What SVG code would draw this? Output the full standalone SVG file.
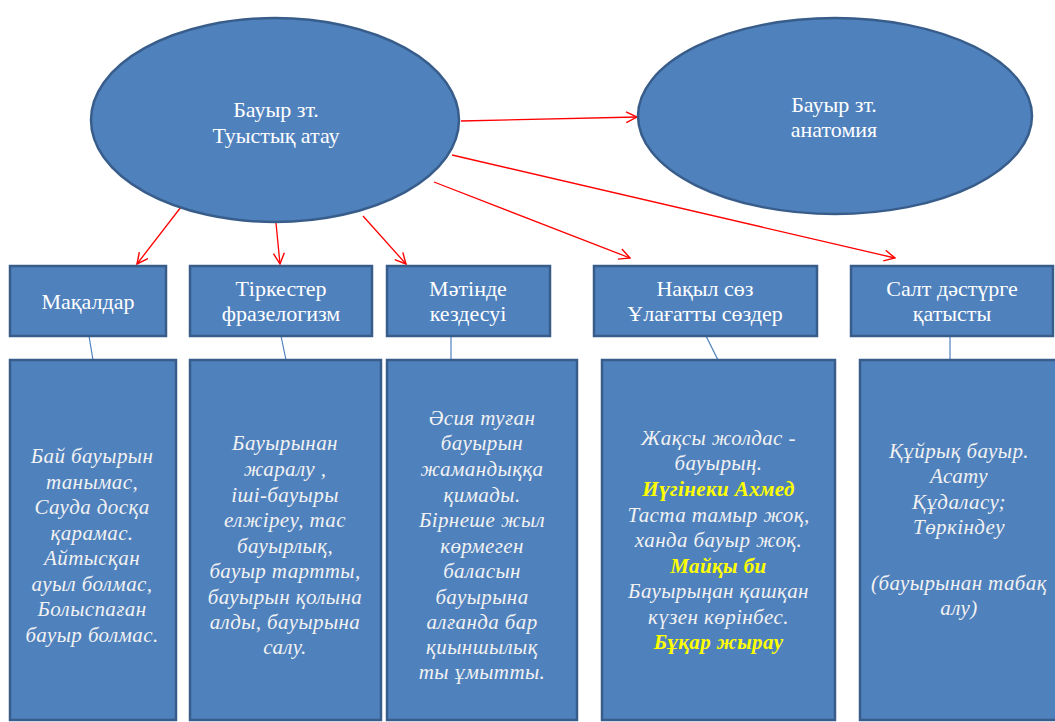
<svg xmlns="http://www.w3.org/2000/svg" width="1055" height="722" viewBox="0 0 1055 722">
<defs>
<style>
.sh{fill:#4F81BD;stroke:#385D8A;stroke-width:2.5}
.t{font-family:'Liberation Serif','Times New Roman',serif;font-size:22px;fill:#FFFFFF;text-anchor:middle}
.i{font-family:'Liberation Serif','Times New Roman',serif;font-size:21px;font-style:italic;fill:#F2F2F2;text-anchor:middle;letter-spacing:0.4px}
.y{fill:#FFFF00;font-weight:bold}
.ar{stroke:#FF0000;stroke-width:1.3;fill:none;marker-end:url(#oa)}
.ln{stroke:#4F81BD;stroke-width:1.2;fill:none}
</style>
<marker id="oa" viewBox="0 0 12 12" refX="11" refY="6" markerWidth="13" markerHeight="13" markerUnits="userSpaceOnUse" orient="auto">
<path d="M1,1 L11,6 L1,11" fill="none" stroke="#FF0000" stroke-width="1.3"/>
</marker>
</defs>
<rect width="1055" height="722" fill="#FFFFFF"/>

<g id="connectors">
<line class="ar" x1="181" y1="207" x2="137" y2="264"/>
<line class="ar" x1="276" y1="223" x2="280" y2="264"/>
<line class="ar" x1="363" y1="216" x2="406" y2="264"/>
<line class="ar" x1="434" y1="182" x2="630" y2="258"/>
<line class="ar" x1="452" y1="155" x2="895" y2="258"/>
<line class="ar" x1="461" y1="121" x2="637" y2="117"/>
<line class="ln" x1="89" y1="336" x2="93" y2="360"/>
<line class="ln" x1="281" y1="336" x2="286" y2="360"/>
<line class="ln" x1="451" y1="326" x2="451" y2="360"/>
<line class="ln" x1="706" y1="336" x2="718" y2="360"/>
<line class="ln" x1="950" y1="336" x2="950" y2="366"/>
</g>

<g id="n-tuystyk">
<ellipse class="sh" cx="275" cy="120" rx="184" ry="102"/>
<text class="t" x="276" y="117">Бауыр зт.</text>
<text class="t" x="276" y="143">Туыстық атау</text>
</g>

<g id="n-anatomia">
<ellipse class="sh" cx="835" cy="116" rx="197" ry="98"/>
<text class="t" x="834" y="112">Бауыр зт.</text>
<text class="t" x="834" y="137">анатомия</text>
</g>

<g id="n-makaldar">
<rect class="sh" x="10" y="266" width="156" height="70"/>
<text class="t" x="88" y="309">Мақалдар</text>
</g>

<g id="n-tirkester">
<rect class="sh" x="190" y="266" width="182" height="70"/>
<text class="t" x="281" y="296">Тіркестер</text>
<text class="t" x="281" y="321">фразелогизм</text>
</g>

<g id="n-matinde">
<rect class="sh" x="387" y="266" width="163" height="70"/>
<text class="t" x="468" y="296">Мәтінде</text>
<text class="t" x="468" y="321">кездесуі</text>
</g>

<g id="n-nakyl">
<rect class="sh" x="594" y="266" width="223" height="70"/>
<text class="t" x="705" y="296">Нақыл сөз</text>
<text class="t" x="705" y="321">Ұлағатты сөздер</text>
</g>

<g id="n-salt">
<rect class="sh" x="851" y="266" width="202" height="70"/>
<text class="t" x="952" y="296">Салт дәстүрге</text>
<text class="t" x="952" y="321">қатысты</text>
</g>

<g id="d-makaldar">
<rect class="sh" x="10" y="360" width="166" height="360"/>
<text class="i" x="92" y="463">Бай бауырын</text>
<text class="i" x="92" y="488.5">танымас,</text>
<text class="i" x="92" y="514">Сауда досқа</text>
<text class="i" x="92" y="539.5">қарамас.</text>
<text class="i" x="92" y="565">Айтысқан</text>
<text class="i" x="92" y="590.5">ауыл болмас,</text>
<text class="i" x="92" y="616">Болыспаған</text>
<text class="i" x="92" y="641.5">бауыр болмас.</text>
</g>

<g id="d-tirkester">
<rect class="sh" x="190" y="360" width="191" height="360"/>
<text class="i" x="285" y="450">Бауырынан</text>
<text class="i" x="285" y="476">жаралу ,</text>
<text class="i" x="285" y="501.5">іші-бауыры</text>
<text class="i" x="285" y="527">елжіреу, тас</text>
<text class="i" x="285" y="552.5">бауырлық,</text>
<text class="i" x="285" y="578">бауыр тартты,</text>
<text class="i" x="285" y="603.5">бауырын қолына</text>
<text class="i" x="285" y="629">алды, бауырына</text>
<text class="i" x="285" y="654">салу.</text>
</g>

<g id="d-matinde">
<rect class="sh" x="387" y="360" width="190" height="360"/>
<text class="i" x="482" y="425">Әсия туған</text>
<text class="i" x="482" y="450">бауырын</text>
<text class="i" x="482" y="476">жамандыққа</text>
<text class="i" x="482" y="501.5">қимады.</text>
<text class="i" x="482" y="527">Бірнеше жыл</text>
<text class="i" x="482" y="552.5">көрмеген</text>
<text class="i" x="482" y="578">баласын</text>
<text class="i" x="482" y="603.5">бауырына</text>
<text class="i" x="482" y="629">алғанда бар</text>
<text class="i" x="482" y="654">қиыншылық</text>
<text class="i" x="482" y="678.5">ты ұмытты.</text>
</g>

<g id="d-nakyl">
<rect class="sh" x="602" y="360" width="233" height="360"/>
<text class="i" x="718.5" y="445">Жақсы жолдас -</text>
<text class="i" x="718.5" y="470">бауырың.</text>
<text class="i y" x="718.5" y="496">Иүгінеки Ахмед</text>
<text class="i" x="718.5" y="521.5">Таста тамыр жоқ,</text>
<text class="i" x="718.5" y="547">ханда бауыр жоқ.</text>
<text class="i y" x="718.5" y="572.5">Майқы би</text>
<text class="i" x="718.5" y="598">Бауырыңан қашқан</text>
<text class="i" x="718.5" y="623.5">күзен көрінбес.</text>
<text class="i y" x="718.5" y="648.5">Бұқар жырау</text>
</g>

<g id="d-salt">
<rect class="sh" x="860" y="360" width="198" height="360"/>
<text class="i" x="959" y="458">Құйрық бауыр.</text>
<text class="i" x="959" y="483">Асату</text>
<text class="i" x="959" y="508.5">Құдаласу;</text>
<text class="i" x="959" y="534">Төркіндеу</text>
<text class="i" x="959" y="590">(бауырынан табақ</text>
<text class="i" x="959" y="615">алу)</text>
</g>
</svg>
